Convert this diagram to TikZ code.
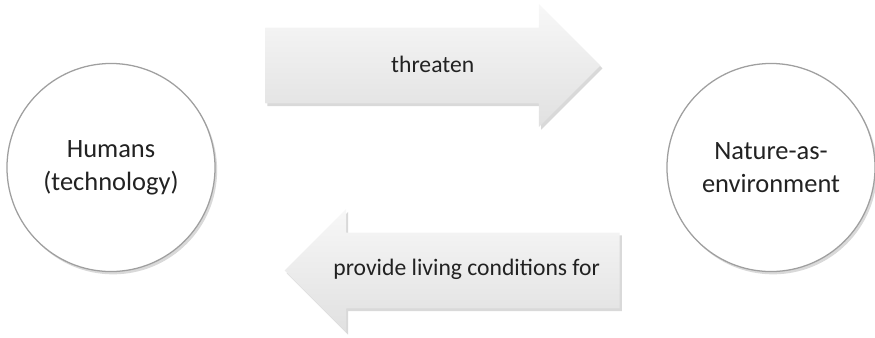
\documentclass[tikz,border=0pt]{standalone}
\usepackage{fontspec}
\setmainfont{Carlito}
\usetikzlibrary{shapes.arrows,shadows}
\definecolor{inkgray}{HTML}{222222}
\tikzstyle{party} = [circle, draw=gray!75, line width=0.9pt, fill=white,
                     minimum size=5.2cm, align=center, text=inkgray,
                     font=\fontsize{18.8}{23.4}\selectfont,
                     drop shadow={shadow xshift=1.5pt, shadow yshift=-2pt, opacity=0.3}]
\tikzstyle{arrowtext} = [anchor=base, inner sep=0pt, text=inkgray,
                         font=\fontsize{16.8}{20}\selectfont]
\begin{document}
\begin{tikzpicture}[
			x=0.025cm, y=-0.025cm,
			blockarrow/.style={
					single arrow,
					single arrow head extend=0.5875cm,
					minimum height=8.375cm,
					inner xsep=0pt, inner ysep=0pt,
					text height=1.08cm, text depth=0.8cm,
					top color=gray!6, bottom color=gray!24, draw=none,
					drop shadow={shadow xshift=1.5pt, shadow yshift=-2pt, opacity=0.3}
				}
		]
		\useasboundingbox (0,0) rectangle (875,337);
		\node[party] (humans) at (111,167.5) {Humans\\(technology)};
		\node[party] (nature) at (771,167.5) {Nature-as-\\environment};
		\node[blockarrow,anchor=tail] (threaten) at (265,65.5) {};
		\node[blockarrow,shape border rotate=180,anchor=tail] (provide) at (620,270.5) {};
		\node[arrowtext] (threatenlbl) at (432.7,72) {threaten};
		\node[arrowtext] (providelbl) at (466.7,275) {provide living conditions for};
	\end{tikzpicture}
\end{document}
